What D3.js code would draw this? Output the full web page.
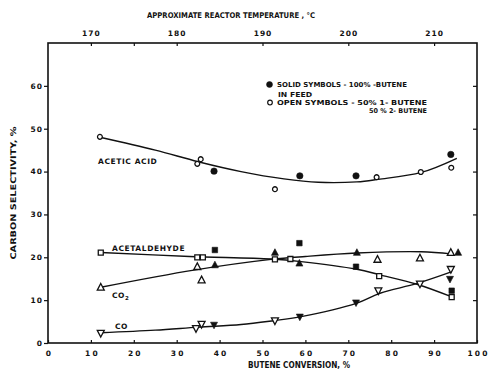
<!DOCTYPE html>
<html>
<head>
<meta charset="utf-8">
<script src="https://cdn.jsdelivr.net/npm/d3@7"></script>
<style>
  html, body { margin: 0; padding: 0; background: #fff; }
  svg text { font-family: "DejaVu Sans", sans-serif; font-weight: bold; fill: #111; }
</style>
</head>
<body>
<svg id="chart" width="490" height="380"></svg>
<script>
// Axis ticks
const conversionTicks = [0, 10, 20, 30, 40, 50, 60, 70, 80, 90, 100];
const selectivityTicks = [0, 10, 20, 30, 40, 50, 60];
const temperatureTicks = [170, 180, 190, 200, 210];
const temperatureMinorTicks = [175];

// Acetic acid: [butene conversion %, carbon selectivity %]
const aceticOpen = [[12.1, 48.1], [35.6, 42.9], [34.8, 41.8], [52.9, 35.9], [76.6, 38.7], [86.9, 39.9], [94.0, 40.9]];
const aceticSolid = [[38.7, 40.1], [58.7, 39.0], [71.8, 39.0], [93.9, 44.0]];
const aceticCurve = [[12.1, 48.0], [25, 45.0], [35, 42.3], [45, 40.0], [55, 38.3], [63, 37.5], [72, 37.6], [77, 38.2], [87, 39.8], [95.3, 43.1]];

// Acetaldehyde
const acetaldehydeOpen = [[12.3, 21.1], [34.8, 20.0], [36.1, 20.0], [52.9, 19.5], [56.5, 19.6], [77.2, 15.6], [94.1, 10.7]];
const acetaldehydeSolid = [[38.9, 21.7], [58.6, 23.3], [71.8, 17.8], [94.1, 12.2]];
const acetaldehydeCurve = [[12.3, 21.1], [33, 20.2], [52, 19.6], [59, 19.0], [72, 17.2], [77.4, 15.9], [86, 13.7], [94, 10.8]];

// CO2
const co2Open = [[12.3, 13.0], [34.8, 17.8], [35.8, 14.7], [76.8, 19.5], [86.7, 19.8], [93.9, 21.1]];
const co2Solid = [[38.9, 18.2], [52.9, 21.1], [58.6, 18.6], [72.0, 21.1], [95.6, 21.1]];
const co2Curve = [[12.3, 13.0], [34, 17.0], [52, 19.5], [60, 20.2], [72, 21.0], [87, 21.3], [94, 20.8]];

// CO
const coOpen = [[12.3, 2.3], [34.5, 3.4], [35.8, 4.4], [52.9, 5.2], [77.0, 12.2], [86.7, 13.8], [93.9, 17.2]];
const coSolid = [[38.7, 4.2], [58.7, 6.1], [71.8, 9.4], [93.7, 14.9]];
const coCurve = [[12.3, 2.4], [25, 3.0], [35, 3.7], [45, 4.3], [52.5, 5.2], [58.7, 6.1], [72, 9.3], [77.4, 11.6], [86, 13.9], [94, 16.6]];

const svg = d3.select("#chart");
const plotLeft = 48, plotRight = 477, plotTop = 43, plotBottom = 343;

const x = d3.scaleLinear().domain([0, 100]).range([plotLeft, plotRight]);
const y = d3.scaleLinear().domain([0, 70]).range([plotBottom, plotTop]);
const xt = d3.scaleLinear().domain([165, 215]).range([plotLeft, plotRight]);

const ink = "#111";

// Frame
svg.append("rect")
  .attr("x", plotLeft).attr("y", plotTop)
  .attr("width", plotRight - plotLeft).attr("height", plotBottom - plotTop)
  .attr("fill", "none").attr("stroke", ink).attr("stroke-width", 1.6);

// Bottom axis: ticks point inward
const gB = svg.append("g").attr("transform", `translate(0,${plotBottom})`)
  .call(d3.axisBottom(x).tickValues(conversionTicks).tickSize(-3).tickPadding(8).tickFormat(d3.format("d")));
// Left axis: ticks point outward
const gL = svg.append("g").attr("transform", `translate(${plotLeft},0)`)
  .call(d3.axisLeft(y).tickValues(selectivityTicks).tickSize(4).tickPadding(1).tickFormat(d3.format("d")));
// Right axis: ticks point inward, no labels
const gR = svg.append("g").attr("transform", `translate(${plotRight},0)`)
  .call(d3.axisRight(y).tickValues(selectivityTicks.slice(1)).tickSize(-4).tickFormat(""));
// Top axis: reactor temperature
const gT = svg.append("g").attr("transform", `translate(0,${plotTop})`)
  .call(d3.axisTop(xt).tickValues(temperatureTicks).tickSize(-3).tickPadding(7).tickFormat(d3.format("d")));
const gTm = svg.append("g").attr("transform", `translate(0,${plotTop})`)
  .call(d3.axisTop(xt).tickValues(temperatureMinorTicks).tickSize(-3).tickFormat(""));

[gB, gL, gR, gT, gTm].forEach(g => {
  g.select(".domain").remove();
  g.selectAll(".tick line").attr("stroke", ink).attr("stroke-width", 1.2);
  g.selectAll(".tick text").attr("font-size", 7.5).attr("fill", ink)
    .style("font-family", "DejaVu Sans, sans-serif").style("font-weight", "bold")
    .attr("letter-spacing", 1);
});
gB.selectAll(".tick text").attr("letter-spacing", 2.2).attr("dx", 1);

// Text helper: fixed overall length, glyphs squeezed to fit
function fitText(sel, tx, ty, t, size, len, anchor) {
  return sel.append("text").attr("x", tx).attr("y", ty)
    .attr("text-anchor", anchor || "start")
    .attr("font-size", size)
    .attr("textLength", len).attr("lengthAdjust", "spacingAndGlyphs")
    .text(t);
}

// Axis titles
fitText(svg, 231, 18, "APPROXIMATE REACTOR TEMPERATURE , °C", 7.8, 168, "middle");
fitText(svg, 299, 368, "BUTENE CONVERSION, %", 8, 102, "middle");
fitText(svg.append("g").attr("transform", "translate(16,193) rotate(-90)"), 0, 0,
  "CARBON SELECTIVITY, %", 7.8, 133, "middle");

// Fitted curves
const line = d3.line().x(d => x(d[0])).y(d => y(d[1])).curve(d3.curveCatmullRom.alpha(0.5));
[aceticCurve, acetaldehydeCurve, co2Curve, coCurve].forEach(c => {
  svg.append("path").attr("d", line(c)).attr("fill", "none")
    .attr("stroke", ink).attr("stroke-width", 1.4);
});

// Markers
const shape = {
  circle: r => d3.symbol().type(d3.symbolCircle).size(Math.PI * r * r)(),
  square: s => `M${-s / 2},${-s / 2}h${s}v${s}h${-s}Z`,
  up: s => `M0,${-s * 0.55}L${s / 2},${s * 0.4}L${-s / 2},${s * 0.4}Z`,
  down: s => `M0,${s * 0.55}L${s / 2},${-s * 0.4}L${-s / 2},${-s * 0.4}Z`
};

function drawMarks(data, kind, size, solid) {
  svg.append("g").selectAll("path").data(data).join("path")
    .attr("transform", d => `translate(${x(d[0])},${y(d[1])})`)
    .attr("d", shape[kind](size))
    .attr("fill", solid ? ink : "#fff")
    .attr("stroke", ink)
    .attr("stroke-width", solid ? 0.6 : 1.3);
}

drawMarks(aceticOpen, "circle", 2.4, false);
drawMarks(aceticSolid, "circle", 3.2, true);
drawMarks(acetaldehydeOpen, "square", 5, false);
drawMarks(acetaldehydeSolid, "square", 5.5, true);
drawMarks(co2Open, "up", 7, false);
drawMarks(co2Solid, "up", 7, true);
drawMarks(coOpen, "down", 7, false);
drawMarks(coSolid, "down", 7, true);

// Curve labels
const lab = (tx, ty, t) => svg.append("text").attr("x", tx).attr("y", ty)
  .attr("font-size", 7.5).attr("letter-spacing", 0.6).text(t);
lab(98, 164, "ACETIC ACID");
lab(112, 251, "ACETALDEHYDE");
const co2Label = lab(112, 298, "CO");
co2Label.append("tspan").attr("font-size", 5.5).attr("dy", 2).text("2");
lab(115, 329, "CO");

// Legend
svg.append("path").attr("transform", `translate(${269.5},${84.5})`)
  .attr("d", shape.circle(3)).attr("fill", ink).attr("stroke", ink).attr("stroke-width", 0.5);
svg.append("path").attr("transform", `translate(${270},${102.5})`)
  .attr("d", shape.circle(2.3)).attr("fill", "#fff").attr("stroke", ink).attr("stroke-width", 1.2);
fitText(svg, 277, 87, "SOLID SYMBOLS - 100% -BUTENE", 6.8, 130);
fitText(svg, 278, 96.8, "IN FEED", 6.8, 34);
fitText(svg, 277, 104.8, "OPEN SYMBOLS - 50% 1- BUTENE", 6.8, 150);
fitText(svg, 427, 112.5, "50 % 2- BUTENE", 6.6, 58, "end");
</script>
</body>
</html>
